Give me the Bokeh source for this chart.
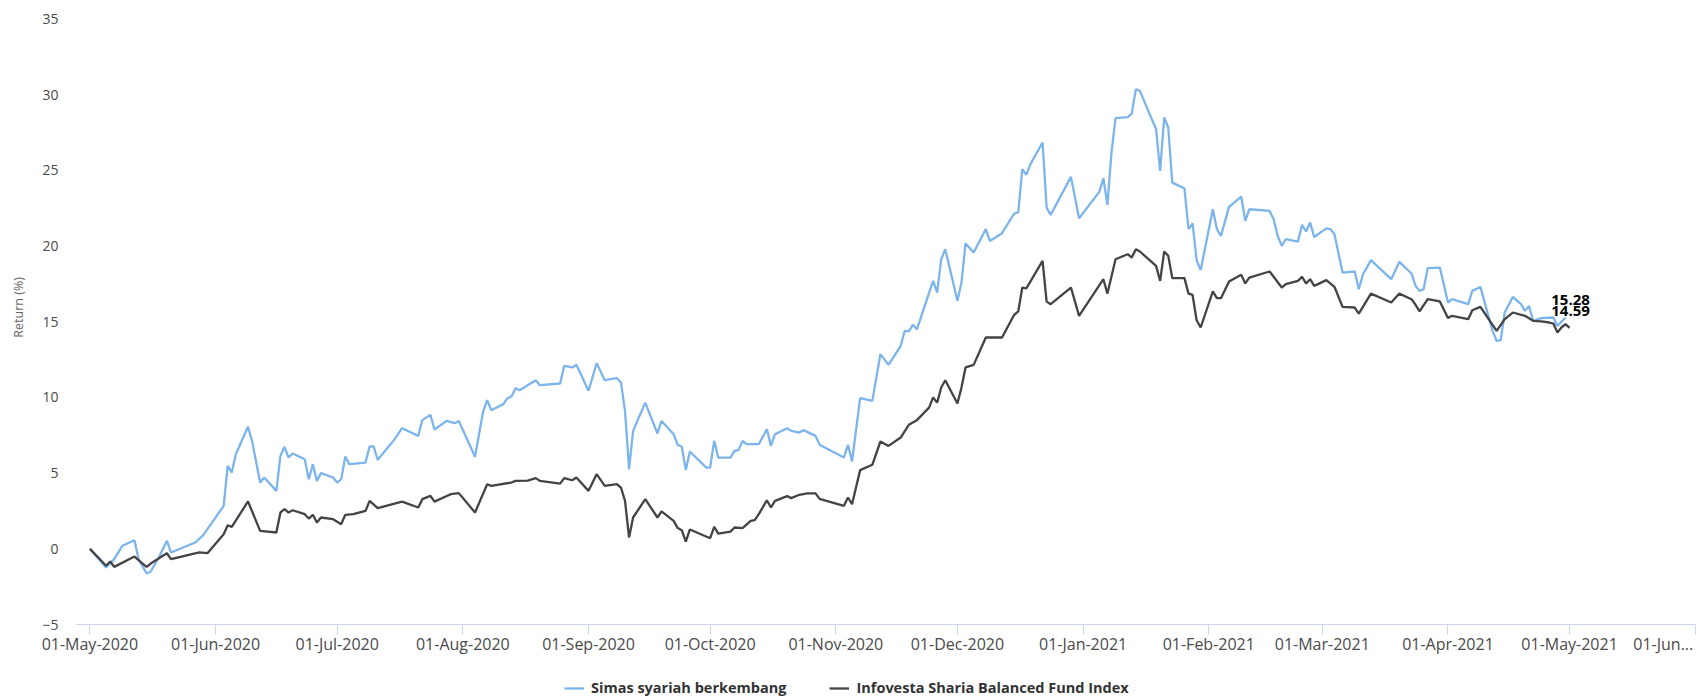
import math
import pandas as pd
from bokeh.plotting import figure
from bokeh.models import (Range1d, FixedTicker, DatetimeTickFormatter,
                          Legend, LegendItem, Label, ColumnDataSource)
from bokeh.embed import file_html
from bokeh.resources import INLINE

start_date = "2020-05-01"
series_names = ["Simas syariah berkembang", "Infovesta Sharia Balanced Fund Index"]
series_colors = ["#7cb5ec", "#434348"]

simas_days = [0, 4, 6, 8, 11, 12, 14, 15, 17, 19, 20, 26, 28, 33, 34, 35, 36, 39, 40, 42,
              43, 46, 47, 48, 49, 50, 53, 54, 55, 56, 57, 60, 61, 62, 63, 64, 68, 69, 70, 71,
              75, 77, 81, 82, 84, 85, 88, 90, 91, 95, 97, 98, 99, 102, 103, 104, 105, 106, 108, 110,
              111, 116, 117, 119, 120, 123, 125, 127, 130, 131, 132, 133, 134, 137, 140, 141, 144, 145, 146, 147,
              148, 152, 153, 154, 155, 158, 159, 160, 161, 162, 165, 167, 168, 169, 172, 173, 175, 176, 179, 180,
              186, 187, 188, 190, 193, 195, 197, 200, 201, 202, 203, 204, 208, 209, 210, 211, 214, 215, 216, 218,
              221, 222, 225, 228, 229, 230, 231, 232, 235, 236, 237, 242, 244, 249, 250, 251, 252, 253, 256, 257,
              258, 259, 263, 264, 265, 266, 267, 270, 271, 272, 273, 274, 277, 278, 279, 281, 284, 285, 286, 291,
              292, 293, 294, 295, 298, 299, 300, 301, 302, 305, 306, 307, 309, 312, 313, 314, 316, 321, 323, 326,
              327, 328, 329, 330, 333, 335, 336, 340, 341, 343, 346, 347, 348, 349, 351, 353, 354, 355, 356, 358,
              361, 362, 364]
simas_values = [0.0, -1.23, -0.68, 0.2, 0.57, -0.68, -1.63, -1.5, -0.57, 0.53, -0.24, 0.42, 0.92, 2.84, 5.48, 5.04, 6.25, 8.06, 7.13, 4.38,
                4.71, 3.83, 6.14, 6.74, 6.03, 6.3, 5.92, 4.6, 5.59, 4.49, 5.0, 4.71, 4.38, 4.6, 6.1, 5.59, 5.7, 6.76, 6.76, 5.88,
                7.18, 7.97, 7.46, 8.5, 8.85, 7.88, 8.45, 8.3, 8.45, 6.08, 9.07, 9.82, 9.16, 9.56, 9.95, 10.06, 10.61, 10.48, 10.8, 11.14,
                10.81, 10.92, 12.09, 11.98, 12.16, 10.44, 12.26, 11.14, 11.27, 10.99, 9.11, 5.26, 7.79, 9.66, 7.62, 8.45, 7.57, 6.87, 6.74, 5.2,
                6.43, 5.37, 5.37, 7.13, 6.03, 6.03, 6.47, 6.52, 7.13, 6.91, 6.91, 7.9, 6.8, 7.57, 7.97, 7.79, 7.68, 7.84, 7.46, 6.87,
                6.03, 6.87, 5.77, 9.95, 9.77, 12.86, 12.15, 13.41, 14.4, 14.36, 14.8, 14.5, 17.7, 16.93, 19.13, 19.79, 16.38, 17.59, 20.17, 19.57,
                21.12, 20.34, 20.85, 22.15, 22.22, 25.08, 24.7, 25.41, 26.84, 22.54, 22.06, 24.57, 21.84, 23.58, 24.48, 22.72, 26.18, 28.45, 28.52, 28.75,
                30.36, 30.25, 27.72, 24.97, 28.49, 27.83, 24.19, 23.8, 21.12, 21.49, 19.07, 18.41, 22.43, 21.12, 20.67, 22.59, 23.27, 21.66, 22.43, 22.32,
                21.77, 20.67, 20.01, 20.45, 20.3, 21.4, 20.96, 21.55, 20.6, 21.17, 21.12, 20.78, 18.25, 18.32, 17.15, 18.1, 19.07, 17.81, 18.96, 18.19,
                17.37, 17.04, 17.15, 18.54, 18.58, 16.27, 16.49, 16.16, 17.04, 17.3, 14.4, 13.74, 13.78, 15.61, 16.64, 16.16, 15.72, 16.05, 15.06, 15.24,
                15.28, 14.73, 15.28]

index_days = [0, 4, 5, 6, 11, 13, 14, 15, 19, 20, 27, 29, 33, 34, 35, 39, 42, 46, 47, 48,
              49, 50, 53, 54, 55, 56, 57, 60, 62, 63, 65, 68, 69, 71, 74, 77, 81, 82, 84, 85,
              89, 91, 95, 98, 99, 104, 105, 108, 110, 111, 116, 117, 119, 120, 123, 125, 127, 130, 131, 132,
              133, 134, 137, 140, 141, 144, 145, 146, 147, 148, 153, 154, 155, 158, 159, 161, 163, 164, 165, 167,
              168, 169, 172, 173, 175, 177, 179, 180, 186, 187, 188, 190, 193, 195, 197, 200, 202, 204, 207, 208,
              209, 210, 211, 214, 215, 216, 218, 221, 225, 228, 229, 230, 231, 235, 236, 237, 242, 244, 250, 251,
              253, 256, 257, 258, 259, 263, 264, 265, 266, 267, 270, 271, 272, 273, 274, 277, 278, 279, 281, 284,
              285, 286, 291, 292, 294, 295, 298, 299, 300, 301, 302, 305, 307, 309, 312, 313, 316, 321, 323, 326,
              327, 328, 330, 333, 335, 336, 340, 341, 343, 347, 349, 351, 354, 356, 358, 360, 361, 362, 363, 364,
              365]
index_values = [0.0, -1.12, -0.84, -1.19, -0.51, -0.97, -1.19, -0.97, -0.29, -0.68, -0.24, -0.29, 0.97, 1.56, 1.45, 3.13, 1.19, 1.08, 2.4, 2.62,
                2.4, 2.55, 2.29, 2.0, 2.25, 1.74, 2.07, 1.96, 1.63, 2.25, 2.29, 2.51, 3.17, 2.69, 2.91, 3.12, 2.73, 3.28, 3.5, 3.12,
                3.61, 3.68, 2.4, 4.27, 4.16, 4.38, 4.49, 4.5, 4.67, 4.49, 4.31, 4.67, 4.53, 4.71, 3.83, 4.93, 4.16, 4.27, 4.05, 3.17,
                0.75, 2.07, 3.28, 2.07, 2.47, 1.85, 1.37, 1.23, 0.48, 1.28, 0.7, 1.45, 1.01, 1.14, 1.41, 1.37, 1.85, 1.9, 2.29, 3.21,
                2.73, 3.17, 3.48, 3.35, 3.57, 3.66, 3.66, 3.3, 2.84, 3.39, 2.95, 5.2, 5.55, 7.09, 6.8, 7.35, 8.19, 8.5, 9.33, 10.0,
                9.66, 10.66, 11.14, 9.6, 10.66, 11.98, 12.15, 13.96, 13.96, 15.46, 15.68, 17.26, 17.2, 19.02, 16.33, 16.16, 17.26, 15.39, 17.81, 16.86,
                19.13, 19.46, 19.24, 19.79, 19.64, 18.69, 17.7, 19.64, 19.35, 17.88, 17.88, 16.86, 16.77, 15.1, 14.62, 17.0, 16.56, 16.56, 17.66, 18.1,
                17.53, 17.92, 18.32, 17.97, 17.26, 17.48, 17.7, 17.97, 17.53, 17.81, 17.37, 17.75, 17.31, 15.98, 15.94, 15.54, 16.86, 16.27, 16.86, 16.49,
                16.12, 15.68, 16.49, 16.34, 15.24, 15.39, 15.17, 15.76, 15.98, 14.4, 15.17, 15.61, 15.39, 15.06, 15.02, 14.95, 14.88, 14.29, 14.62, 14.84,
                14.59]

y_ticks = [-5, 0, 5, 10, 15, 20, 25, 30, 35]
x_tick_months = pd.date_range("2020-05-01", "2021-05-01", freq="MS")
x_last_tick = pd.Timestamp("2021-06-01")
y_title = "Return (%)"
last_tick_label = "01-Jun..."

t0 = pd.Timestamp(start_date)
simas_dates = t0 + pd.to_timedelta(simas_days, unit="D")
index_dates = t0 + pd.to_timedelta(index_days, unit="D")


def ms(ts):
    return ts.timestamp() * 1000.0


FONT = "Open Sans"
TICK_COLOR = "#4a4a4a"

# canvas-filling frame; axes are pinned inside it
x_start = t0 - pd.Timedelta(days=22.05)
x_end = t0 + pd.Timedelta(days=396.8)
axis_left = t0 - pd.Timedelta(days=3.3)

p = figure(width=1698, height=697, x_axis_type="datetime", output_backend="svg",
           toolbar_location=None,
           x_range=Range1d(x_start, x_end),
           y_range=Range1d(-9.82, 36.22),
           min_border_left=0, min_border_right=0, min_border_top=0, min_border_bottom=0)
p.outline_line_color = None
p.background_fill_color = "white"
p.border_fill_color = "white"
p.xgrid.grid_line_color = None
p.ygrid.grid_line_color = None

src1 = ColumnDataSource(dict(x=simas_dates, y=simas_values))
src2 = ColumnDataSource(dict(x=index_dates, y=index_values))
r1 = p.line("x", "y", source=src1, line_color=series_colors[0], line_width=2.3)
r2 = p.line("x", "y", source=src2, line_color=series_colors[1], line_width=2.3)

# x axis (pinned at y = -5)
xa = p.xaxis[0]
xa.fixed_location = -5
xa.bounds = (axis_left, x_last_tick)
xa.ticker = FixedTicker(ticks=[ms(t) for t in x_tick_months], minor_ticks=[ms(x_last_tick)])
xa.formatter = DatetimeTickFormatter(months="%d-%b-%Y", days="%d-%b-%Y", years="%d-%b-%Y",
                                     hours="%d-%b-%Y", milliseconds="%d-%b-%Y", seconds="%d-%b-%Y",
                                     minsec="%d-%b-%Y", minutes="%d-%b-%Y", hourmin="%d-%b-%Y")
xa.axis_line_color = "#ccd6eb"
xa.major_tick_line_color = "#ccd6eb"
xa.minor_tick_line_color = "#ccd6eb"
xa.major_tick_out = 10
xa.major_tick_in = 0
xa.minor_tick_out = 10
xa.minor_tick_in = 0
xa.major_label_standoff = -2
xa.major_label_text_font = FONT
xa.major_label_text_font_size = "16px"
xa.major_label_text_color = TICK_COLOR

# y axis (pinned at the left edge of the plotting area)
ya = p.yaxis[0]
ya.fixed_location = ms(axis_left)
ya.bounds = (-5, 35)
ya.ticker = FixedTicker(ticks=y_ticks)
ya.axis_line_color = None
ya.major_tick_line_color = None
ya.minor_tick_line_color = None
ya.major_tick_out = 0
ya.major_tick_in = 0
ya.major_label_standoff = 18
ya.major_label_text_font = FONT
ya.major_label_text_font_size = "14px"
ya.major_label_text_color = TICK_COLOR

# y axis title
p.add_layout(Label(x=x_start, y=15, x_offset=18, y_offset=14.4, angle=math.pi / 2,
                   text=y_title, text_align="center", text_baseline="middle",
                   text_font=FONT, text_font_size="12.5px", text_color="#666666"))

# truncated last month label
p.add_layout(Label(x=x_last_tick, y=-5, y_offset=-19, x_offset=-2,
                   text=last_tick_label, text_align="right", text_baseline="middle",
                   text_font=FONT, text_font_size="16px", text_color=TICK_COLOR))

# end-of-series data labels
p.add_layout(Label(x=simas_dates[-1], y=simas_values[-1], x_offset=5, y_offset=17.5,
                   text=f"{simas_values[-1]:.2f}", text_align="center", text_baseline="middle",
                   text_font=FONT, text_font_size="15px", text_font_style="bold", text_color="#000000"))
p.add_layout(Label(x=index_dates[-1], y=index_values[-1], x_offset=1, y_offset=17,
                   text=f"{index_values[-1]:.2f}", text_align="center", text_baseline="middle",
                   text_font=FONT, text_font_size="15px", text_font_style="bold", text_color="#000000"))

legend = Legend(items=[LegendItem(label=series_names[0], renderers=[r1]),
                       LegendItem(label=series_names[1], renderers=[r2])],
                orientation="horizontal", location=(564, 0),
                padding=0, margin=0, spacing=43, label_standoff=7,
                glyph_width=20, glyph_height=16, label_height=16,
                border_line_color=None, background_fill_alpha=0,
                label_text_font=FONT, label_text_font_size="14.5px",
                label_text_font_style="bold", label_text_color="#333333")
p.add_layout(legend)

open("out.html", "w").write(file_html(p, INLINE))
